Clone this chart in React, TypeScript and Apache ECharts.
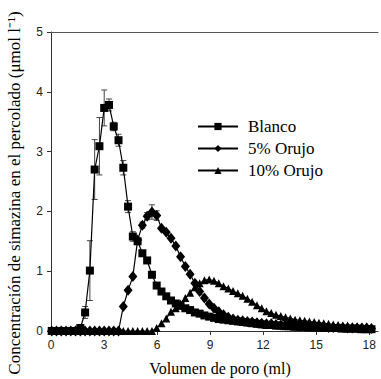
import React, { useEffect, useRef } from "react";
import * as echarts from "echarts";

const xVals = [
  0.04, 0.31, 0.58, 0.85, 1.12, 1.39, 1.66, 1.93, 2.2, 2.47,
  2.74, 3.01, 3.28, 3.55, 3.82, 4.09, 4.36, 4.63, 4.9, 5.17,
  5.44, 5.71, 5.98, 6.25, 6.52, 6.79, 7.06, 7.33, 7.6, 7.87,
  8.14, 8.41, 8.68, 8.95, 9.22, 9.49, 9.76, 10.03, 10.3, 10.57,
  10.84, 11.11, 11.38, 11.65, 11.92, 12.19, 12.46, 12.73, 13.0, 13.27,
  13.54, 13.81, 14.08, 14.35, 14.62, 14.89, 15.16, 15.43, 15.7, 15.97,
  16.24, 16.51, 16.78, 17.05, 17.32, 17.59, 17.86, 18.13,
];

const blanco = [
  0, 0, 0, 0, 0, 0, 0.05, 0.31, 1.01, 2.7,
  3.09, 3.73, 3.78, 3.42, 3.19, 2.73, 2.08, 1.58, 1.5, 1.3,
  1.18, 0.94, 0.76, 0.66, 0.58, 0.51, 0.46, 0.42, 0.38, 0.35,
  0.31, 0.29, 0.26, 0.24, 0.22, 0.2, 0.19, 0.18, 0.17, 0.16,
  0.15, 0.14, 0.13, 0.12, 0.11, 0.1, 0.1, 0.09, 0.09, 0.08,
  0.08, 0.07, 0.07, 0.07, 0.06, 0.06, 0.06, 0.05, 0.05, 0.05,
  0.05, 0.04, 0.04, 0.04, 0.04, 0.03, 0.03, 0.03,
];

const orujo5 = [
  0, 0, 0, 0, 0, 0, 0, 0, 0, 0,
  0, 0, 0, 0, 0, 0.41, 0.68, 0.91, 1.52, 1.77,
  1.92, 1.99, 1.93, 1.72, 1.65, 1.55, 1.42, 1.24, 1.08, 0.95,
  0.8, 0.66, 0.55, 0.45, 0.38, 0.32, 0.27, 0.23, 0.2, 0.18,
  0.17, 0.16, 0.15, 0.14, 0.13, 0.12, 0.12, 0.11, 0.1, 0.1,
  0.09, 0.09, 0.08, 0.08, 0.08, 0.07, 0.07, 0.07, 0.06, 0.06,
  0.06, 0.06, 0.05, 0.05, 0.05, 0.05, 0.05, 0.04,
];

const orujo10 = [
  0, 0, 0, 0, 0, 0, 0, 0, 0, 0,
  0, 0, 0, 0, 0, 0, 0, 0, 0, 0,
  0, 0, 0.05, 0.13, 0.21, 0.32, 0.38, 0.46, 0.55, 0.64,
  0.73, 0.8, 0.85, 0.86, 0.84, 0.8, 0.75, 0.71, 0.67, 0.63,
  0.59, 0.54, 0.49, 0.43, 0.38, 0.33, 0.3, 0.27, 0.25, 0.23,
  0.21, 0.19, 0.18, 0.17, 0.16, 0.15, 0.14, 0.13, 0.12, 0.11,
  0.1, 0.09, 0.09, 0.08, 0.08, 0.07, 0.07, 0.06,
];

// standard deviations (index aligned with xVals; 0 = no visible bar)
const blancoErr = [
  0, 0, 0, 0, 0, 0, 0.04, 0.1, 0.5, 0.5,
  0.48, 0.3, 0.1, 0.07, 0.1, 0.12, 0.1, 0.08, 0, 0,
];
const orujo5Err = [
  0, 0, 0, 0, 0, 0, 0, 0, 0, 0,
  0, 0, 0, 0, 0, 0, 0, 0, 0, 0.05,
  0.06, 0.12, 0.08, 0, 0, 0, 0, 0, 0, 0,
];

const seriesNames = ["Blanco", "5% Orujo", "10% Orujo"];
const xTicks = [0, 3, 6, 9, 12, 15, 18];
const yTitle = "Concentración de simazina en el percolado (μmol l⁻¹)";
const xTitle = "Volumen de poro (ml)";

function pairs(ys: number[]) {
  return ys.map((y, i) => [xVals[i], y]);
}
function errData(ys: number[], es: number[]) {
  const out: number[][] = [];
  es.forEach((e, i) => {
    if (e > 0) out.push([xVals[i], ys[i], e]);
  });
  return out;
}

const errRender = (params: any, api: any) => {
  const x = api.value(0);
  const y = api.value(1);
  const e = api.value(2);
  const top = api.coord([x, y + e]);
  const bot = api.coord([x, Math.max(0, y - e)]);
  const w = 3;
  const st = { stroke: "#444", lineWidth: 1 };
  return {
    type: "group",
    children: [
      { type: "line", shape: { x1: top[0], y1: top[1], x2: bot[0], y2: bot[1] }, style: st },
      { type: "line", shape: { x1: top[0] - w, y1: top[1], x2: top[0] + w, y2: top[1] }, style: st },
      { type: "line", shape: { x1: bot[0] - w, y1: bot[1], x2: bot[0] + w, y2: bot[1] }, style: st },
    ],
  };
};

export default function App() {
  const ref = useRef<HTMLDivElement>(null);
  useEffect(() => {
    if (!ref.current) return;
    const chart = echarts.init(ref.current, null, { renderer: "svg" });
    const lineStyle = { color: "#000", width: 1.2 };
    const itemStyle = { color: "#000" };
    chart.setOption({
      animation: false,
      backgroundColor: "#fff",
      grid: { left: 51, right: 3, top: 32, bottom: 48, containLabel: false, outerBoundsMode: "none" },
      legend: {
        data: seriesNames,
        orient: "vertical",
        left: 197,
        top: 118,
        padding: 0,
        itemWidth: 40,
        itemHeight: 9,
        itemGap: 5,
        textStyle: { fontFamily: "Liberation Serif", fontSize: 17, color: "#000", padding: [0, 0, 0, 5] },
      },
      xAxis: [
        {
          type: "value",
          min: 0,
          max: 18.5,
          interval: 3,
          axisLine: { show: true, lineStyle: { color: "#333", width: 1 } },
          axisTick: { show: true, length: 4, lineStyle: { color: "#333" }, customValues: xTicks },
          axisLabel: {
            customValues: xTicks,
            fontFamily: "Liberation Sans",
            fontSize: 12,
            color: "#222",
            margin: 8,
          },
          splitLine: { show: false },
        },
        {
          type: "value",
          position: "top",
          min: 0,
          max: 18.5,
          axisLine: { show: true, lineStyle: { color: "#555", width: 1 } },
          axisTick: { show: false },
          axisLabel: { show: false },
          splitLine: { show: false },
        },
      ],
      yAxis: {
        type: "value",
        min: 0,
        max: 5,
        interval: 1,
        axisLine: { show: true, lineStyle: { color: "#333", width: 1 } },
        axisTick: { show: true, length: 4, lineStyle: { color: "#333" } },
        axisLabel: { fontFamily: "Liberation Sans", fontSize: 12, color: "#222", margin: 8 },
        splitLine: { show: false },
      },
      graphic: [
        {
          type: "text",
          x: 14,
          y: 193,
          rotation: Math.PI / 2,
          style: {
            text: yTitle,
            font: '17px "Liberation Serif"',
            fill: "#000",
            textAlign: "center",
            textVerticalAlign: "middle",
          },
        },
        {
          type: "text",
          x: 220,
          y: 368,
          style: {
            text: xTitle,
            font: '16px "Liberation Serif"',
            fill: "#000",
            textAlign: "center",
            textVerticalAlign: "middle",
          },
        },
      ],
      series: [
        {
          type: "custom",
          name: "errB",
          renderItem: errRender,
          data: errData(blanco, blancoErr),
          z: 1,
          silent: true,
        },
        {
          type: "custom",
          name: "err5",
          renderItem: errRender,
          data: errData(orujo5, orujo5Err),
          z: 1,
          silent: true,
        },
        {
          type: "line",
          name: seriesNames[0],
          data: pairs(blanco),
          symbol: "rect",
          symbolSize: 8,
          showAllSymbol: true,
          lineStyle,
          itemStyle,
          z: 4,
        },
        {
          type: "line",
          name: seriesNames[1],
          data: pairs(orujo5),
          symbol: "diamond",
          symbolSize: [9, 11],
          showAllSymbol: true,
          lineStyle,
          itemStyle,
          z: 3,
        },
        {
          type: "line",
          name: seriesNames[2],
          data: pairs(orujo10),
          symbol: "triangle",
          symbolSize: 8,
          showAllSymbol: true,
          lineStyle,
          itemStyle,
          z: 2,
        },
      ],
    });
    return () => chart.dispose();
  }, []);
  return (
    <div
      ref={ref}
      style={{ position: "absolute", left: 0, top: 0, width: 381, height: 379, background: "#fff" }}
    />
  );
}
